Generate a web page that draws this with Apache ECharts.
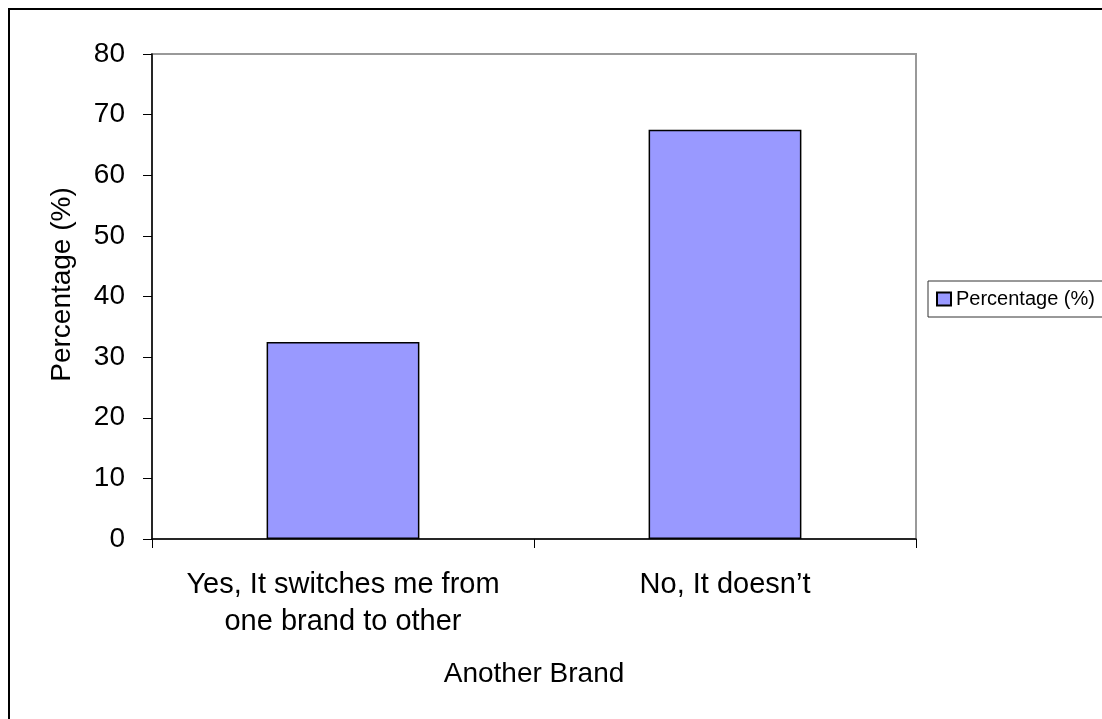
<!DOCTYPE html>
<html>
<head>
<meta charset="utf-8">
<script src="https://cdn.jsdelivr.net/npm/echarts@6/dist/echarts.min.js"></script>
<style>
html,body{margin:0;padding:0;background:#fff;}
#chart{width:1102px;height:719px;}
</style>
</head>
<body>
<div id="chart"></div>
<script>
const categories = ["Yes, It switches me from\none brand to other", "No, It doesn\u2019t"];
const values = [32.5, 67.5];
const seriesName = "Percentage (%)";
const yTicks = { min: 0, max: 80, interval: 10 };
const yAxisTitle = "Percentage (%)";
const xAxisTitle = "Another Brand";

const FONT = "'Liberation Sans', Arial, sans-serif";
const chart = echarts.init(document.getElementById('chart'), null, {renderer: 'canvas'});
chart.setOption({
  animation: false,
  backgroundColor: '#fff',
  textStyle: { fontFamily: FONT },
  graphic: [{
    type: 'rect',
    shape: { x: 9, y: 9, width: 1200, height: 800 },
    style: { fill: 'none', stroke: '#000', lineWidth: 2 },
    z: 0
  }],
  grid: {
    left: 152, right: 186, top: 54, bottom: 180,
    show: true, borderColor: '#999', borderWidth: 2, backgroundColor: 'transparent'
  },
  legend: {
    show: true,
    left: 928, top: 281,
    padding: [8, 40, 8, 8],
    itemWidth: 14, itemHeight: 13,
    borderColor: '#333', borderWidth: 1,
    backgroundColor: '#fff',
    textStyle: { fontFamily: FONT, fontSize: 20, color: '#000' },
    data: [{ name: seriesName, icon: 'rect' }]
  },
  xAxis: {
    type: 'category',
    data: categories,
    name: xAxisTitle,
    nameLocation: 'middle',
    nameGap: 121,
    nameTextStyle: { fontFamily: FONT, fontSize: 28, color: '#000' },
    axisLine: { lineStyle: { color: '#000', width: 1.5 } },
    axisTick: { show: true, interval: 0, length: 9, lineStyle: { color: '#000' } },
    axisLabel: { interval: 0, hideOverlap: false, fontFamily: FONT, fontSize: 29, color: '#000', margin: 27, lineHeight: 37 },
    splitLine: { show: false }
  },
  yAxis: {
    type: 'value',
    min: yTicks.min, max: yTicks.max, interval: yTicks.interval,
    name: yAxisTitle,
    nameLocation: 'middle',
    nameGap: 76,
    nameTextStyle: { fontFamily: FONT, fontSize: 28, color: '#000', padding: [0, 0, 0, 24] },
    axisLine: { show: true, lineStyle: { color: '#000', width: 1.5 } },
    axisTick: { show: true, length: 9, lineStyle: { color: '#000' } },
    axisLabel: { fontFamily: FONT, fontSize: 28, color: '#000', margin: 27 },
    splitLine: { show: false }
  },
  series: [{
    name: seriesName,
    type: 'bar',
    data: values,
    barWidth: '40%',
    itemStyle: { color: '#9999FF', borderColor: '#000', borderWidth: 1.5 }
  }]
});
</script>
</body>
</html>
